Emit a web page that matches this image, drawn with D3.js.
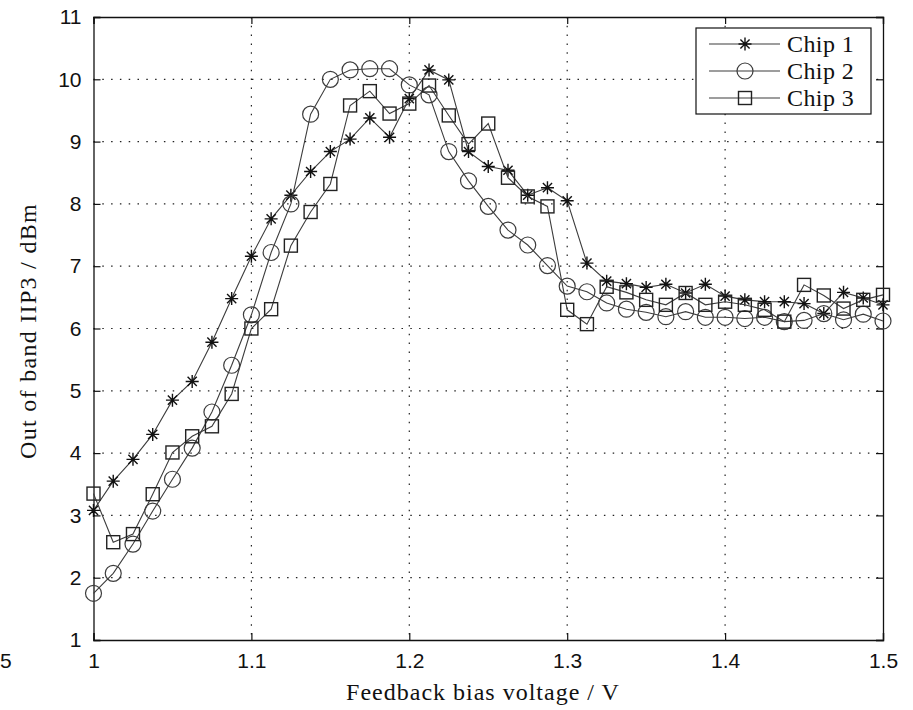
<!DOCTYPE html>
<html>
<head>
<meta charset="utf-8">
<script src="https://cdn.jsdelivr.net/npm/d3@7"></script>
<style>
  body { margin: 0; background: #fff; }
  svg { display: block; }
</style>
</head>
<body>
<svg id="chart"></svg>
<script>
// bias voltage steps 1.0 .. 1.5 (41 points)
const voltages = [1.0, 1.0125, 1.025, 1.0375, 1.05, 1.0625, 1.075, 1.0875, 1.1, 1.1125,
  1.125, 1.1375, 1.15, 1.1625, 1.175, 1.1875, 1.2, 1.2125, 1.225, 1.2375,
  1.25, 1.2625, 1.275, 1.2875, 1.3, 1.3125, 1.325, 1.3375, 1.35, 1.3625,
  1.375, 1.3875, 1.4, 1.4125, 1.425, 1.4375, 1.45, 1.4625, 1.475, 1.4875, 1.5]

const chip1 = [3.08, 3.55, 3.9, 4.3, 4.85, 5.15, 5.78, 6.48, 7.16, 7.76,
  8.14, 8.52, 8.84, 9.04, 9.38, 9.07, 9.69, 10.15, 9.99, 8.84,
  8.6, 8.54, 8.14, 8.26, 8.05, 7.05, 6.76, 6.72, 6.66, 6.71,
  6.57, 6.71, 6.52, 6.46, 6.43, 6.43, 6.4, 6.24, 6.58, 6.49, 6.38]

const chip2 = [1.75, 2.07, 2.54, 3.07, 3.58, 4.08, 4.66, 5.41, 6.22, 7.22,
  8.0, 9.44, 10.0, 10.15, 10.17, 10.17, 9.91, 9.75, 8.84, 8.37,
  7.96, 7.58, 7.34, 7.01, 6.68, 6.59, 6.41, 6.31, 6.26, 6.19,
  6.27, 6.18, 6.18, 6.16, 6.18, 6.11, 6.13, 6.24, 6.14, 6.23, 6.12]

const chip3 = [3.35, 2.57, 2.7, 3.34, 4.01, 4.27, 4.43, 4.95, 6.0, 6.31,
  7.33, 7.87, 8.32, 9.58, 9.81, 9.45, 9.61, 9.9, 9.42, 8.96,
  9.29, 8.42, 8.12, 7.96, 6.3, 6.07, 6.67, 6.58, 6.46, 6.38,
  6.57, 6.38, 6.43, 6.38, 6.3, 6.11, 6.7, 6.53, 6.32, 6.46, 6.54]

const seriesNames = ['Chip 1', 'Chip 2', 'Chip 3']
const seriesMarkers = ['star', 'circle', 'square']
const xTicks = [1, 1.1, 1.2, 1.3, 1.4, 1.5]
const yTicks = [1, 2, 3, 4, 5, 6, 7, 8, 9, 10, 11]

const width = 913
const height = 710
const margin = { left: 93.5, right: 30, top: 17, bottom: 70 }
const lineColor = '#3c3c3c'
const serif = "'Liberation Serif', 'DejaVu Serif', serif"

const svg = d3.select('#chart')
  .attr('width', width)
  .attr('height', height)

const xScale = d3.scaleLinear()
  .domain([1, 1.5])
  .range([margin.left, width - margin.right])

const yScale = d3.scaleLinear()
  .domain([1, 11])
  .range([height - margin.bottom, margin.top])

const x0 = xScale(1), x1 = xScale(1.5)
const y0 = yScale(1), y1 = yScale(11)

// dotted grid
svg.append('g')
  .selectAll('line')
  .data(xTicks.slice(1, -1))
  .enter()
  .append('line')
  .attr('x1', d => xScale(d)).attr('x2', d => xScale(d))
  .attr('y1', y1).attr('y2', y0)
  .attr('stroke', '#222')
  .attr('stroke-width', 1.2)
  .attr('stroke-dasharray', '1.5,7.3')

svg.append('g')
  .selectAll('line')
  .data(yTicks.slice(1, -1))
  .enter()
  .append('line')
  .attr('y1', d => yScale(d)).attr('y2', d => yScale(d))
  .attr('x1', x0).attr('x2', x1)
  .attr('stroke', '#222')
  .attr('stroke-width', 1.2)
  .attr('stroke-dasharray', '1.5,7.3')

// axes: ticks pointing inward, labels outside
const tickFont = "'Liberation Sans', Arial, sans-serif"

const xAxis = d3.axisBottom(xScale).tickValues(xTicks).tickSize(-7).tickPadding(16)
  .tickFormat(d => d3.format('')(d))
const yAxis = d3.axisLeft(yScale).tickValues(yTicks).tickSize(-7).tickPadding(12)
  .tickFormat(d3.format('d'))

const gx = svg.append('g')
  .attr('transform', `translate(0, ${y0})`)
  .call(xAxis)
const gy = svg.append('g')
  .attr('transform', `translate(${x0}, 0)`)
  .call(yAxis)

svg.append('g')
  .attr('transform', `translate(0, ${y1})`)
  .call(d3.axisTop(xScale).tickValues(xTicks).tickSize(-7).tickFormat(''))
svg.append('g')
  .attr('transform', `translate(${x1}, 0)`)
  .call(d3.axisRight(yScale).tickValues(yTicks).tickSize(-7).tickFormat(''))

svg.selectAll('.domain').attr('stroke', '#111').attr('stroke-width', 1.3)
svg.selectAll('.tick line').attr('stroke', '#111').attr('stroke-width', 1.2)
svg.selectAll('.tick text')
  .attr('font-family', tickFont)
  .attr('font-size', 21)
  .attr('fill', '#111')
gx.selectAll('.tick text').attr('dy', '0.55em')

// series
const allSeries = [chip1, chip2, chip3]
const line = d3.line()
  .x((d, i) => xScale(voltages[i]))
  .y(d => yScale(d))

function drawMarker(g, type, cx, cy) {
  if (type === 'circle') {
    g.append('circle')
      .attr('cx', cx).attr('cy', cy).attr('r', 8)
      .attr('fill', 'none').attr('stroke', lineColor).attr('stroke-width', 1.2)
  } else if (type === 'square') {
    g.append('rect')
      .attr('x', cx - 6.5).attr('y', cy - 6.5)
      .attr('width', 13).attr('height', 13)
      .attr('fill', 'none').attr('stroke', '#222').attr('stroke-width', 1.4)
  } else {
    const r = 6.5
    const path = d3.path()
    for (let k = 0; k < 4; k++) {
      const a = k * Math.PI / 4
      path.moveTo(cx - r * Math.cos(a), cy - r * Math.sin(a))
      path.lineTo(cx + r * Math.cos(a), cy + r * Math.sin(a))
    }
    g.append('path')
      .attr('d', path.toString())
      .attr('stroke', '#111').attr('stroke-width', 1.4).attr('fill', 'none')
  }
}

allSeries.forEach((vals, s) => {
  const g = svg.append('g').attr('class', 'series')
  g.append('path')
    .attr('d', line(vals))
    .attr('fill', 'none')
    .attr('stroke', lineColor)
    .attr('stroke-width', 1.1)
  vals.forEach((v, i) => drawMarker(g, seriesMarkers[s], xScale(voltages[i]), yScale(v)))
})

// legend
const legend = svg.append('g').attr('transform', 'translate(696, 28)')
legend.append('rect')
  .attr('width', 175).attr('height', 86)
  .attr('fill', '#fff').attr('stroke', '#111').attr('stroke-width', 1.2)

seriesNames.forEach((name, s) => {
  const ly = 16 + s * 27
  legend.append('line')
    .attr('x1', 13).attr('x2', 84).attr('y1', ly).attr('y2', ly)
    .attr('stroke', lineColor).attr('stroke-width', 1.1)
  drawMarker(legend, seriesMarkers[s], 49, ly)
  legend.append('text')
    .attr('x', 91).attr('y', ly)
    .attr('dy', '0.33em')
    .attr('font-family', serif)
    .attr('font-size', 24)
    .attr('letter-spacing', 0.4)
    .attr('fill', '#111')
    .text(name)
})

// axis titles
svg.append('text')
  .attr('x', 483)
  .attr('y', 700)
  .attr('text-anchor', 'middle')
  .attr('font-family', serif)
  .attr('font-size', 24)
  .attr('letter-spacing', 1)
  .attr('fill', '#111')
  .text('Feedback bias voltage / V')

svg.append('text')
  .attr('transform', `translate(36, 331) rotate(-90)`)
  .attr('text-anchor', 'middle')
  .attr('font-family', serif)
  .attr('font-size', 24)
  .attr('letter-spacing', 1.3)
  .attr('fill', '#111')
  .text('Out of band IIP3 / dBm')

// leftover label at the left edge
svg.append('text')
  .attr('x', 0).attr('y', 668)
  .attr('font-family', tickFont)
  .attr('font-size', 21)
  .attr('fill', '#111')
  .text('5')
</script>
</body>
</html>
